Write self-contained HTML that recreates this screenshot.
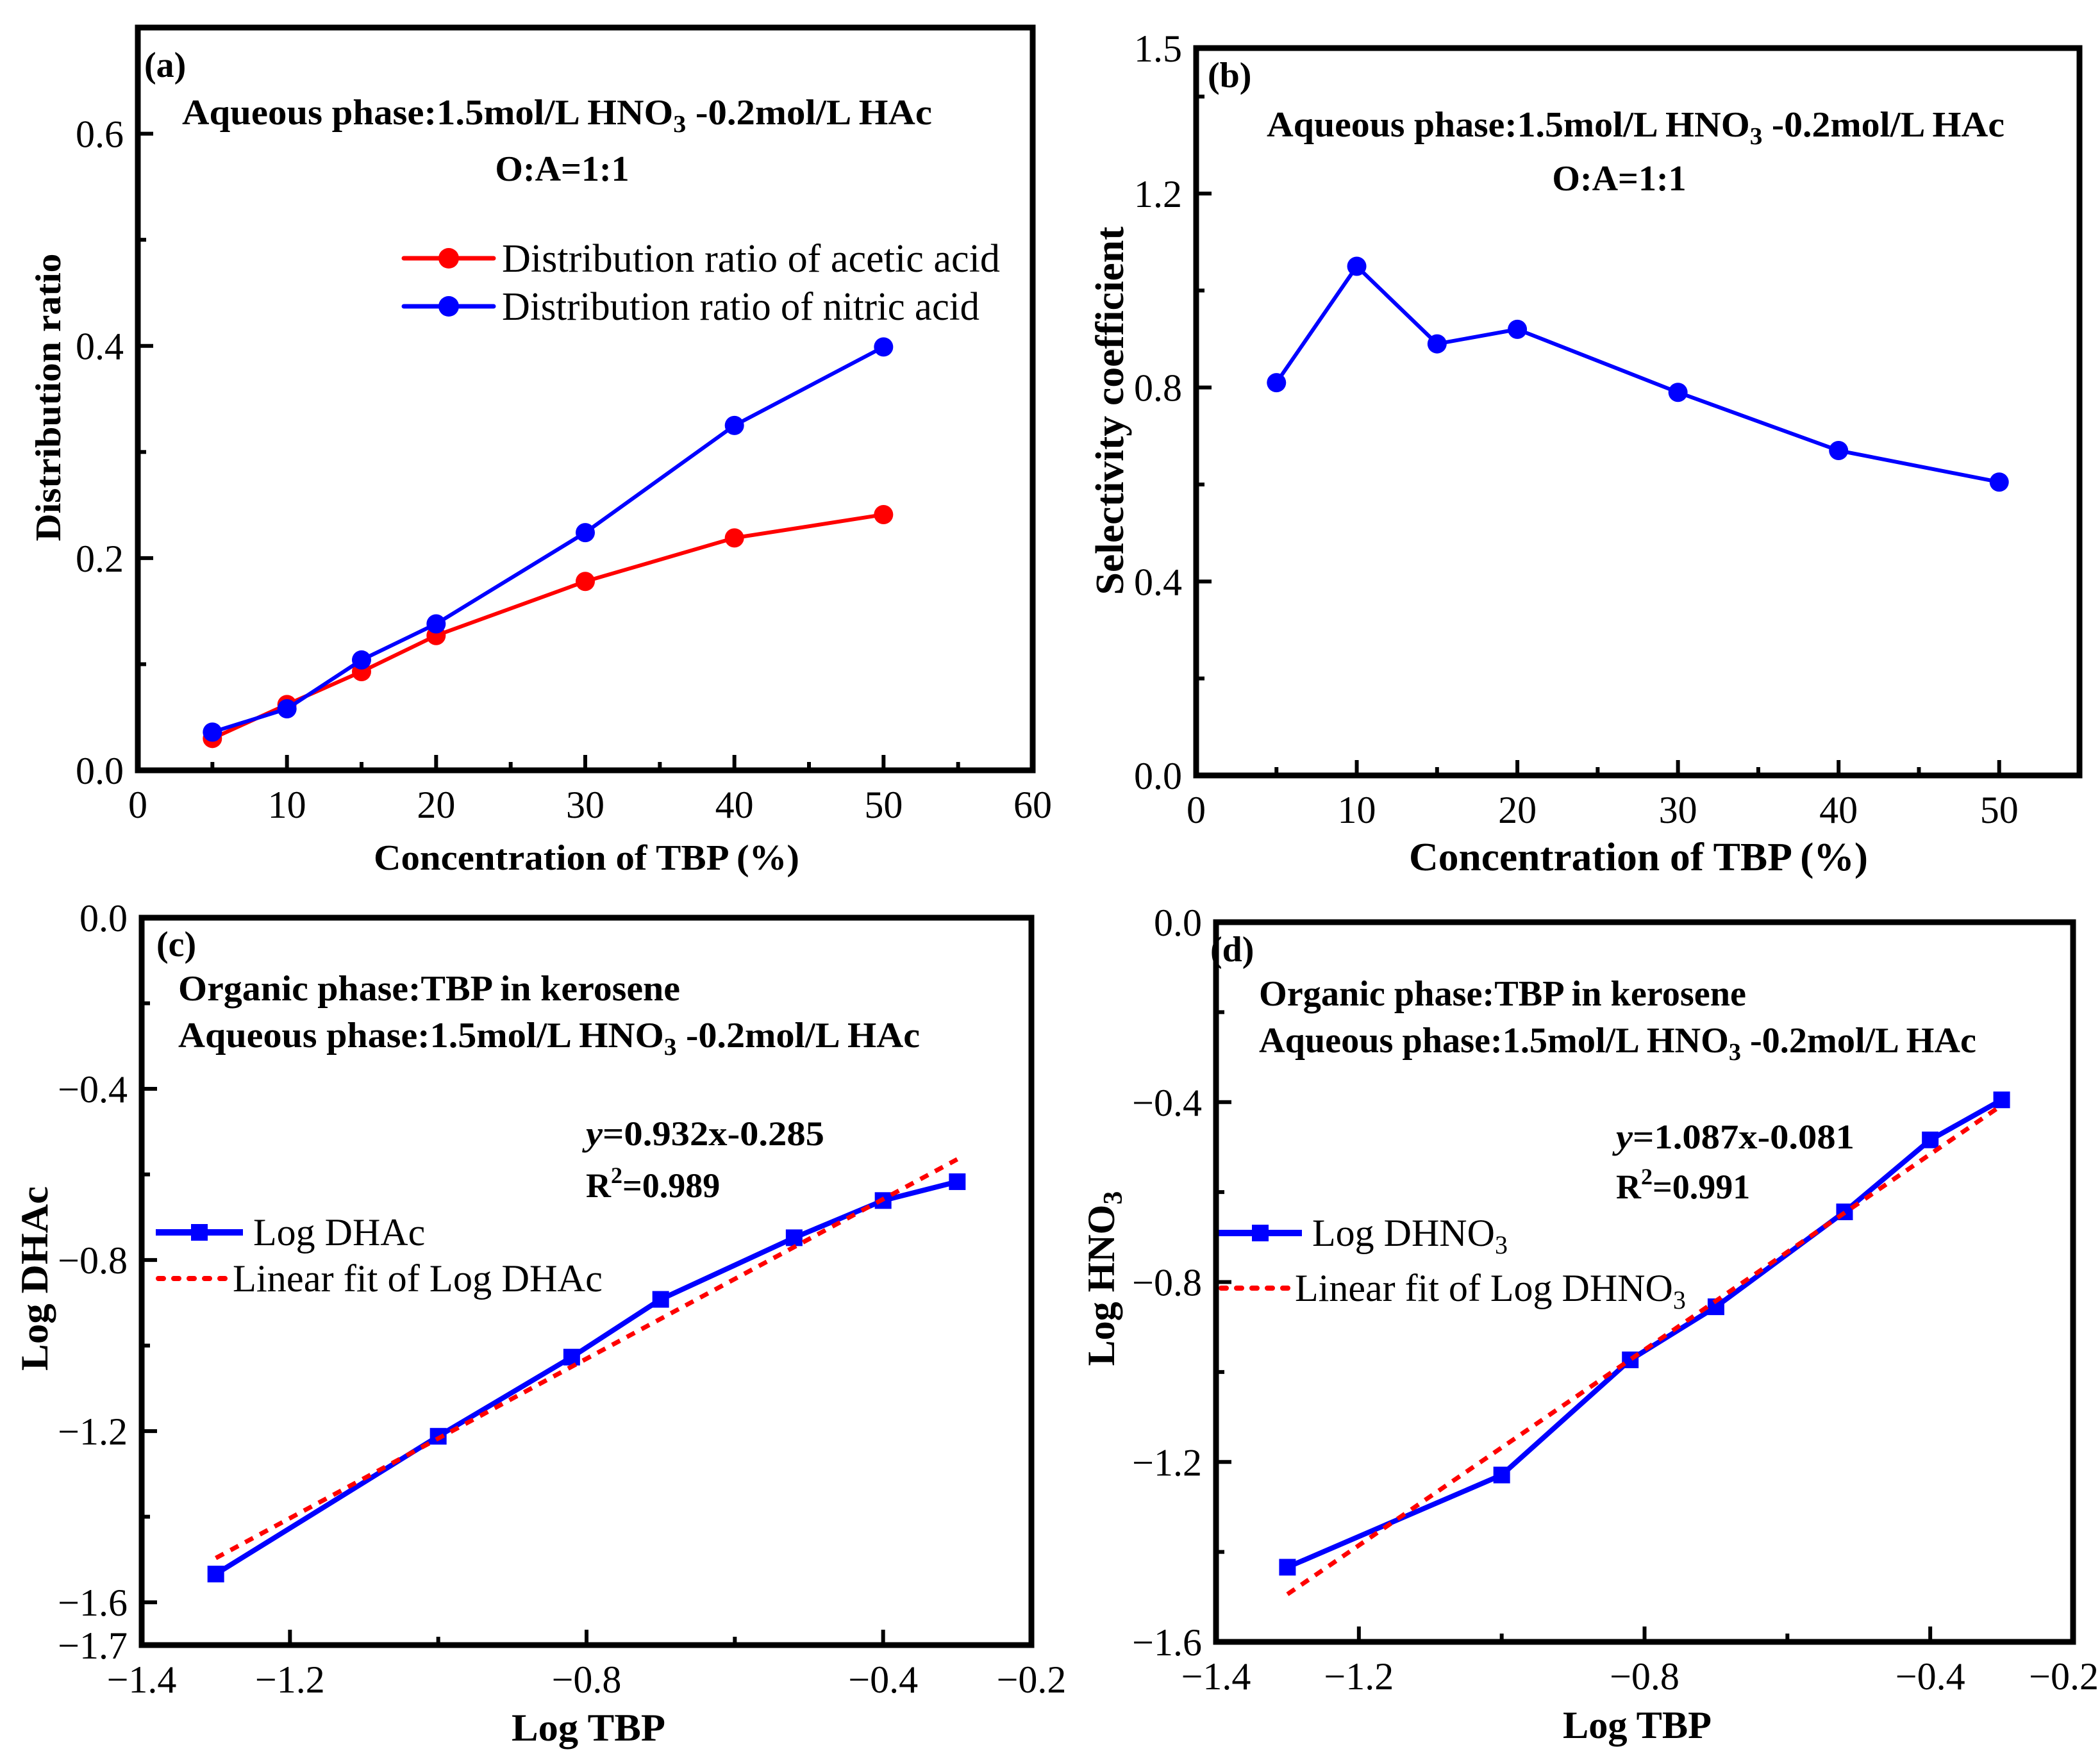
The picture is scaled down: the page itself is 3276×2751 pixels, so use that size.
<!DOCTYPE html>
<html><head><meta charset="utf-8"><style>
html,body{margin:0;padding:0;background:#fff}
svg{display:block}
text{font-family:"Liberation Serif","DejaVu Serif",serif;fill:#000}
.b{font-weight:bold}
</style></head><body>
<svg id="fig" xmlns="http://www.w3.org/2000/svg" width="3276" height="2751" viewBox="0 0 3276 2751">
<g id="static">
<text class="b" x="225" y="120" font-size="56">(a)</text>
<text class="b" x="284" y="194" font-size="56" textLength="1170" lengthAdjust="spacingAndGlyphs">Aqueous phase:1.5mol/L HNO<tspan font-size="38" dy="12">3</tspan><tspan dy="-12"> -0.2mol/L HAc</tspan></text>
<text class="b" x="877" y="282" font-size="56" text-anchor="middle">O:A=1:1</text>
<text x="783" y="424" font-size="62" textLength="777" lengthAdjust="spacingAndGlyphs">Distribution ratio of acetic acid</text>
<text x="783" y="499" font-size="62" textLength="745" lengthAdjust="spacingAndGlyphs">Distribution ratio of nitric acid</text>
<text class="b" x="583" y="1357" font-size="56" textLength="664" lengthAdjust="spacingAndGlyphs">Concentration of TBP (%)</text>
<text class="b" font-size="56" text-anchor="middle" transform="translate(94,620) rotate(-90)" textLength="449" lengthAdjust="spacingAndGlyphs">Distribution ratio</text>
<text class="b" x="1884" y="136" font-size="56">(b)</text>
<text class="b" x="1976" y="213" font-size="56" textLength="1151" lengthAdjust="spacingAndGlyphs">Aqueous phase:1.5mol/L HNO<tspan font-size="38" dy="12">3</tspan><tspan dy="-12"> -0.2mol/L HAc</tspan></text>
<text class="b" x="2526" y="297" font-size="56" text-anchor="middle">O:A=1:1</text>
<text class="b" x="2198" y="1358" font-size="62" textLength="716" lengthAdjust="spacingAndGlyphs">Concentration of TBP (%)</text>
<text class="b" font-size="62" text-anchor="middle" transform="translate(1752,641) rotate(-90)" textLength="575" lengthAdjust="spacingAndGlyphs">Selectivity coefficient</text>
<text class="b" x="244" y="1492" font-size="56">(c)</text>
<text class="b" x="278" y="1561" font-size="56" textLength="783" lengthAdjust="spacingAndGlyphs">Organic phase:TBP in kerosene</text>
<text class="b" x="278" y="1634" font-size="56" textLength="1157" lengthAdjust="spacingAndGlyphs">Aqueous phase:1.5mol/L HNO<tspan font-size="38" dy="12">3</tspan><tspan dy="-12"> -0.2mol/L HAc</tspan></text>
<text class="b" x="914" y="1787" font-size="54" textLength="372" lengthAdjust="spacingAndGlyphs"><tspan font-style="italic">y</tspan>=0.932x-0.285</text>
<text class="b" x="914" y="1868" font-size="54">R<tspan font-size="36" dy="-22">2</tspan><tspan dy="22">=0.989</tspan></text>
<text x="395" y="1943" font-size="60">Log DHAc</text>
<text x="363" y="2015" font-size="60" textLength="577" lengthAdjust="spacingAndGlyphs">Linear fit of Log DHAc</text>
<text class="b" x="798" y="2716" font-size="60" textLength="240" lengthAdjust="spacingAndGlyphs">Log TBP</text>
<text class="b" font-size="60" text-anchor="middle" transform="translate(74,1995) rotate(-90)" textLength="288" lengthAdjust="spacingAndGlyphs">Log DHAc</text>
<text class="b" x="1888" y="1500" font-size="56">(d)</text>
<text class="b" x="1964" y="1569" font-size="56" textLength="760" lengthAdjust="spacingAndGlyphs">Organic phase:TBP in kerosene</text>
<text class="b" x="1964" y="1642" font-size="56" textLength="1119" lengthAdjust="spacingAndGlyphs">Aqueous phase:1.5mol/L HNO<tspan font-size="38" dy="12">3</tspan><tspan dy="-12"> -0.2mol/L HAc</tspan></text>
<text class="b" x="2521" y="1792" font-size="54" textLength="372" lengthAdjust="spacingAndGlyphs"><tspan font-style="italic">y</tspan>=1.087x-0.081</text>
<text class="b" x="2521" y="1870" font-size="54">R<tspan font-size="36" dy="-22">2</tspan><tspan dy="22">=0.991</tspan></text>
<text x="2047" y="1944" font-size="60">Log DHNO<tspan font-size="40" dy="12">3</tspan></text>
<text x="2020" y="2030" font-size="60">Linear fit of Log DHNO<tspan font-size="40" dy="12">3</tspan></text>
<text class="b" x="2438" y="2712" font-size="60" textLength="232" lengthAdjust="spacingAndGlyphs">Log TBP</text>
<text class="b" font-size="60" text-anchor="middle" transform="translate(1738,1995) rotate(-90)">Log HNO<tspan font-size="42" dy="12">3</tspan></text>
<line x1="630" y1="403" x2="770" y2="403" stroke="#ff0000" stroke-width="7" stroke-linecap="round"/>
<circle cx="700" cy="403" r="16" fill="#ff0000"/>
<line x1="630" y1="478" x2="770" y2="478" stroke="#0000ff" stroke-width="7" stroke-linecap="round"/>
<circle cx="700" cy="478" r="16" fill="#0000ff"/>
<line x1="243" y1="1923" x2="379" y2="1923" stroke="#0000ff" stroke-width="10"/>
<rect x="298" y="1910" width="26" height="26" fill="#0000ff"/>
<line x1="247" y1="1995" x2="360" y2="1995" stroke="#ff0000" stroke-width="8" stroke-dasharray="8 16" stroke-linecap="round"/>
<line x1="1901" y1="1924" x2="2031" y2="1924" stroke="#0000ff" stroke-width="10"/>
<rect x="1953" y="1911" width="26" height="26" fill="#0000ff"/>
<line x1="1905" y1="2010" x2="2018" y2="2010" stroke="#ff0000" stroke-width="8" stroke-dasharray="8 16" stroke-linecap="round"/>
</g>
<g id="dyn"></g>
</svg>
<script>
const aConc = [5, 10, 15, 20, 30, 40, 50];
const aAcetic = [0.030, 0.062, 0.093, 0.127, 0.178, 0.219, 0.241];
const aNitric = [0.036, 0.058, 0.104, 0.138, 0.224, 0.325, 0.399];
const bConc = [5, 10, 15, 20, 30, 40, 50];
const bSelectivity = [0.81, 1.05, 0.89, 0.92, 0.79, 0.67, 0.605];
const cLogTBP = [-1.30, -1.00, -0.82, -0.70, -0.52, -0.40, -0.30];
const cLogDHAc = [-1.534, -1.212, -1.027, -0.892, -0.748, -0.661, -0.617];
const cFit = [0.932, -0.285];
const dLogTBP = [-1.30, -1.00, -0.82, -0.70, -0.52, -0.40, -0.30];
const dLogDHNO3 = [-1.434, -1.229, -0.973, -0.855, -0.644, -0.484, -0.395];
const dFit = [1.087, -0.081];
const aXTicks = [0, 10, 20, 30, 40, 50, 60];
const aYTicks = [0, 0.2, 0.4, 0.6];
const bXTicks = [0, 10, 20, 30, 40, 50];
const bYTicks = [0, 0.4, 0.8, 1.2, 1.5];
const cXTicks = [-1.4, -1.2, -0.8, -0.4, -0.2];
const cYTicks = [0, -0.4, -0.8, -1.2, -1.6, -1.7];
const dXTicks = [-1.4, -1.2, -0.8, -0.4, -0.2];
const dYTicks = [0, -0.4, -0.8, -1.2, -1.6];

const NS = 'http://www.w3.org/2000/svg';
const root = document.getElementById('dyn');
function mk(tag, attrs) {
  const e = document.createElementNS(NS, tag);
  for (const k in attrs) e.setAttribute(k, attrs[k]);
  root.appendChild(e);
  return e;
}
function lin(d0, d1, p0, p1) { return v => p0 + (v - d0) / (d1 - d0) * (p1 - p0); }
function fmt(v, dec) { const s = Math.abs(v).toFixed(dec); return (v < -1e-9 ? '\u2212' : '') + s; }

function axes(id, px0, px1, py0, py1, xd, yd, xTicks, xDec, xMajor, xMinor, yTicks, yMajor, yMinor) {
  const sx = lin(xd[0], xd[1], px0, px1), sy = lin(yd[0], yd[1], py0, py1);
  const top = Math.min(py0, py1), bot = Math.max(py0, py1);
  const fr = mk('rect', {x: px0, y: top, width: px1 - px0, height: bot - top, fill: 'none', stroke: '#000', 'stroke-width': 9});
  
  
  xMajor.forEach(v => {
    const t = mk('line', {x1: sx(v), x2: sx(v), y1: bot, y2: bot - 24, stroke: '#000', 'stroke-width': 6});
    
    
  });
  xMinor.forEach(v => {
    const t = mk('line', {x1: sx(v), x2: sx(v), y1: bot, y2: bot - 13, stroke: '#000', 'stroke-width': 6});
    
    
  });
  yMajor.forEach(v => {
    const t = mk('line', {x1: px0, x2: px0 + 24, y1: sy(v), y2: sy(v), stroke: '#000', 'stroke-width': 6});
    
    
  });
  yMinor.forEach(v => {
    const t = mk('line', {x1: px0, x2: px0 + 13, y1: sy(v), y2: sy(v), stroke: '#000', 'stroke-width': 6});
    
    
  });
  xTicks.forEach(v => {
    let x = sx(v), anchor = 'middle';
    if (x + 60 > 3272) { x = 3274; anchor = 'end'; }
    const t = mk('text', {x: x, y: bot + 74, 'font-size': 60, 'text-anchor': anchor});
    t.textContent = fmt(v, xDec);
    
    
  });
  yTicks.forEach(v => {
    const t = mk('text', {x: px0 - 22, y: sy(v) + 21, 'font-size': 60, 'text-anchor': 'end'});
    t.textContent = fmt(v, 1);
    
    
  });
  return [sx, sy];
}
function series(name, xs, ys, sx, sy, color, marker) {
  const pts = xs.map((x, i) => sx(x) + ',' + sy(ys[i])).join(' ');
  const pl = mk('polyline', {points: pts, fill: 'none', stroke: color, 'stroke-width': marker === 'circle' ? 6 : 8, 'stroke-linejoin': 'round'});
  
  
  xs.forEach((x, i) => {
    let m;
    if (marker === 'circle') m = mk('circle', {cx: sx(x), cy: sy(ys[i]), r: 15, fill: color});
    else m = mk('rect', {x: sx(x) - 13, y: sy(ys[i]) - 13, width: 26, height: 26, fill: color});
    
    
  });
}
function fitLine(name, xs, fit, sx, sy) {
  const x0 = xs[0], x1 = xs[xs.length - 1];
  const l = mk('line', {x1: sx(x0), y1: sy(fit[0] * x0 + fit[1]), x2: sx(x1), y2: sy(fit[0] * x1 + fit[1]), stroke: '#ff0000', 'stroke-width': 7, 'stroke-dasharray': '14 12'});
  
  
}

let [ax, ay] = axes('panel-a', 215, 1611, 1202, 43, [0, 60], [0, 0.7], aXTicks, 0,
  [10, 20, 30, 40, 50], [5, 15, 25, 35, 45, 55], aYTicks, [0.2, 0.4, 0.6], [0.1, 0.3, 0.5]);
series('acetic-acid', aConc, aAcetic, ax, ay, '#ff0000', 'circle');
series('nitric-acid', aConc, aNitric, ax, ay, '#0000ff', 'circle');
let [bx, by] = axes('panel-b', 1866, 3244, 1210, 75, [0, 55], [0, 1.5], bXTicks, 0,
  [10, 20, 30, 40, 50], [5, 15, 25, 35, 45], bYTicks, [0.4, 0.8, 1.2], [0.2, 0.6, 1.0, 1.4]);
series('selectivity', bConc, bSelectivity, bx, by, '#0000ff', 'circle');
let [cx, cy] = axes('panel-c', 221, 1609, 1432, 2567, [-1.4, -0.2], [0, -1.7], cXTicks, 1,
  [-1.2, -0.8, -0.4], [-1.0, -0.6], cYTicks, [-0.4, -0.8, -1.2, -1.6], [-0.2, -0.6, -1.0, -1.4]);
series('log-dhac', cLogTBP, cLogDHAc, cx, cy, '#0000ff', 'square');
fitLine('log-dhac-fit', cLogTBP, cFit, cx, cy);
let [dx, dy] = axes('panel-d', 1897, 3234, 1439, 2562, [-1.4, -0.2], [0, -1.6], dXTicks, 1,
  [-1.2, -0.8, -0.4], [-1.0, -0.6], dYTicks, [-0.4, -0.8, -1.2], [-0.2, -0.6, -1.0, -1.4]);
series('log-dhno3', dLogTBP, dLogDHNO3, dx, dy, '#0000ff', 'square');
fitLine('log-dhno3-fit', dLogTBP, dFit, dx, dy);
</script>
</body></html>
